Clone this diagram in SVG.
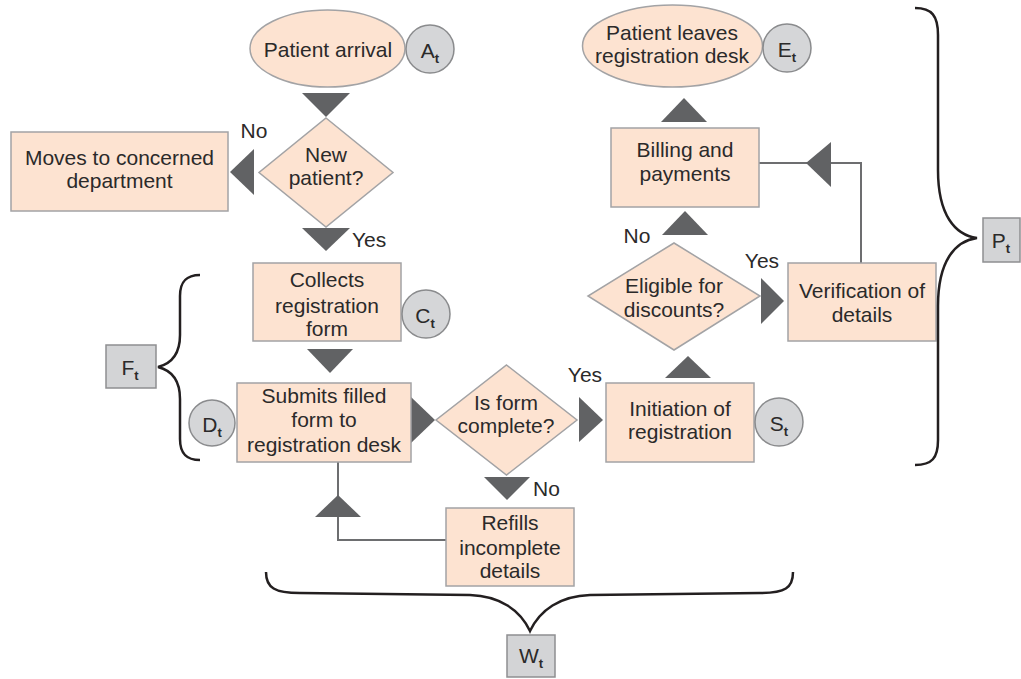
<svg xmlns="http://www.w3.org/2000/svg" width="1021" height="679" viewBox="0 0 1021 679">
<style>
.n{fill:#fde3d1;stroke:#a3a3a5;stroke-width:1.5}
.c{fill:#d5d6d8;stroke:#8a8b8d;stroke-width:1.5}
.g{fill:#d3d4d6;stroke:#8e8f91;stroke-width:1.5}
text{font-family:"Liberation Sans",Arial,sans-serif;font-size:21px;fill:#2b2a2a;text-anchor:middle}
.s{font-size:13px;font-weight:bold}
.l{text-anchor:start}
.ar{fill:#616264}
.ln{fill:none;stroke:#6d6e70;stroke-width:2}
.br{fill:none;stroke:#231f20;stroke-width:2.5}
</style>
<rect width="1021" height="679" fill="#fff"/>
<g id="connectors">
<path class="ln" d="M861,263 V163 H759"/>
<path class="ln" d="M446,540 H338 V462"/>
<polygon class="ar" points="302,93 350,93 326,117"/>
<polygon class="ar" points="254,149 254,195 230,172"/>
<polygon class="ar" points="302,228 350,228 326,251"/>
<polygon class="ar" points="307,349 353,349 330,373"/>
<polygon class="ar" points="411,397 411,443 435,420"/>
<polygon class="ar" points="579,397 579,442 603,420"/>
<polygon class="ar" points="484,477 530,477 507,500"/>
<polygon class="ar" points="315,517 361,517 338,495"/>
<polygon class="ar" points="665,378 711,378 688,356"/>
<polygon class="ar" points="662,235 708,235 685,211"/>
<polygon class="ar" points="661,122 707,122 684,98"/>
<polygon class="ar" points="761,278 761,324 784,301"/>
<polygon class="ar" points="831,142 831,187 806,163"/>
<text x="254" y="138">No</text>
<text class="l" x="352" y="247">Yes</text>
<text x="637" y="243">No</text>
<text x="762" y="268">Yes</text>
<text x="585" y="382">Yes</text>
<text class="l" x="533" y="496">No</text>
</g>
<g id="arrival">
<ellipse class="n" cx="327.5" cy="48.5" rx="77.5" ry="38.5"/>
<text x="328" y="57">Patient arrival</text>
</g>
<g id="At">
<circle class="c" cx="430" cy="49" r="24"/>
<text x="430" y="58">A<tspan class="s" dy="5">t</tspan></text>
</g>
<g id="newpatient">
<polygon class="n" points="326,118 393,172.5 326,227 259,172.5"/>
<text x="326" y="162">New</text>
<text x="326" y="185">patient?</text>
</g>
<g id="moves">
<rect class="n" x="11" y="132" width="217" height="79"/>
<text x="119.5" y="165">Moves to concerned</text>
<text x="119.5" y="188">department</text>
</g>
<g id="collects">
<rect class="n" x="253" y="263" width="148" height="78"/>
<text x="327" y="287">Collects</text>
<text x="327" y="313">registration</text>
<text x="327" y="336">form</text>
</g>
<g id="Ct">
<circle class="c" cx="426" cy="314" r="24"/>
<text x="425" y="323">C<tspan class="s" dy="5">t</tspan></text>
</g>
<g id="submits">
<rect class="n" x="237" y="383" width="174" height="79"/>
<text x="324" y="403">Submits filled</text>
<text x="324" y="427">form to</text>
<text x="324" y="452">registration desk</text>
</g>
<g id="Dt">
<circle class="c" cx="212" cy="423" r="23"/>
<text x="212" y="432">D<tspan class="s" dy="5">t</tspan></text>
</g>
<g id="formcomplete">
<polygon class="n" points="506.5,365 577,420 506.5,475 436,420"/>
<text x="506" y="410">Is form</text>
<text x="506" y="433">complete?</text>
</g>
<g id="refills">
<rect class="n" x="446" y="508" width="128" height="78"/>
<text x="510" y="530">Refills</text>
<text x="510" y="555">incomplete</text>
<text x="510" y="578">details</text>
</g>
<g id="initiation">
<rect class="n" x="606" y="383" width="148" height="79"/>
<text x="680" y="416">Initiation of</text>
<text x="680" y="439">registration</text>
</g>
<g id="St">
<circle class="c" cx="779" cy="422" r="24"/>
<text x="779" y="431">S<tspan class="s" dy="5">t</tspan></text>
</g>
<g id="eligible">
<polygon class="n" points="674,243 760,296 674,350 588,296"/>
<text x="674" y="293">Eligible for</text>
<text x="674" y="317">discounts?</text>
</g>
<g id="verification">
<rect class="n" x="788" y="263" width="148" height="78"/>
<text x="862" y="298">Verification of</text>
<text x="862" y="322">details</text>
</g>
<g id="billing">
<rect class="n" x="611" y="128" width="148" height="79"/>
<text x="685" y="157">Billing and</text>
<text x="685" y="181">payments</text>
</g>
<g id="leaves">
<ellipse class="n" cx="672.5" cy="46" rx="90" ry="41"/>
<text x="672" y="40">Patient leaves</text>
<text x="672" y="63">registration desk</text>
</g>
<g id="Et">
<circle class="c" cx="787" cy="48" r="24"/>
<text x="787" y="57">E<tspan class="s" dy="5">t</tspan></text>
</g>
<g id="Fbrace">
<path class="br" d="M200,275 C186,275 180,282 180,296 L180,335 C180,355 170,364 158,367 C170,370 180,379 180,399 L180,439 C180,453 186,460 200,460"/>
<rect class="g" x="106" y="345" width="50" height="43"/>
<text x="130" y="375">F<tspan class="s" dy="5">t</tspan></text>
</g>
<g id="Pbrace">
<path class="br" d="M915,8 C932,8 938,16 938,35 L938,170 C938,215 955,235 977,238 C955,241 938,261 938,306 L938,440 C938,458 932,465 915,465"/>
<rect class="g" x="983" y="218" width="37" height="44"/>
<text x="1001" y="248">P<tspan class="s" dy="5">t</tspan></text>
</g>
<g id="Wbrace">
<path class="br" d="M266,572 C266,588 275,593 300,593 L470,595 C500,596 520,610 530,631 C540,610 560,596 590,595 L760,593 C785,593 793,588 793,572"/>
<rect class="g" x="507" y="635" width="48" height="42"/>
<text x="531" y="663">W<tspan class="s" dy="5">t</tspan></text>
</g>
</svg>
